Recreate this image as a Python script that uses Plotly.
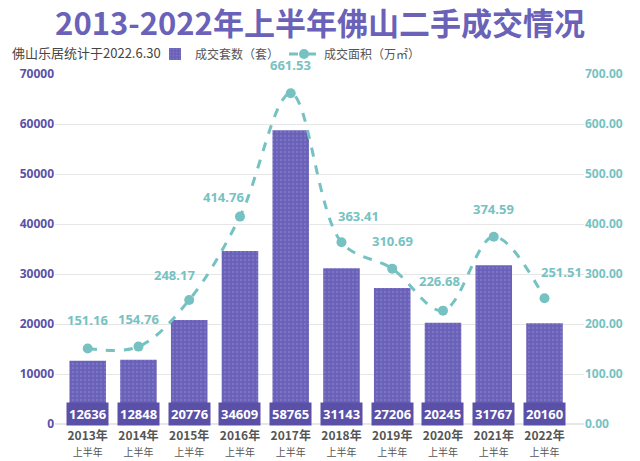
import plotly.graph_objects as go

years = ["2013年", "2014年", "2015年", "2016年", "2017年", "2018年", "2019年", "2020年", "2021年", "2022年"]
half = "上半年"
units = [12636, 12848, 20776, 34609, 58765, 31143, 27206, 20245, 31767, 20160]
area = [151.16, 154.76, 248.17, 414.76, 661.53, 363.41, 310.69, 226.68, 374.59, 251.51]
left_ticks = [0, 10000, 20000, 30000, 40000, 50000, 60000, 70000]
right_ticks = [0, 100, 200, 300, 400, 500, 600, 700]

# label placement offsets (pixels) for the area labels
label_dx = [0, 0, -15, -16, 0, 17, 0, -3, 0, 17]
label_dy = [17, 17, 14, 9, 17, 15, 17, 19, 17, 15]

purple = "#6a61b8"
purple_dark = "#5a50a8"
teal = "#76c2c2"

ticktext = [f"<b>{y}</b><br><span style='font-size:10px'>{half}</span>" for y in years]

plot_l, plot_r, plot_t, plot_b = 55, 584, 74, 424

fig = go.Figure()
fig.add_trace(go.Bar(
    x=years, y=units, name="成交套数（套）", width=0.72,
    marker=dict(color=purple, line=dict(width=0),
                pattern=dict(shape=".", fgcolor="#8f88cf", bgcolor=purple, size=4, solidity=0.25)),
    yaxis="y",
))
fig.add_trace(go.Scatter(
    x=years, y=area, name="成交面积（万㎡）", yaxis="y2",
    mode="lines+markers",
    line=dict(color=teal, width=3, dash="dash", shape="spline", smoothing=1),
    marker=dict(color=teal, size=10),
))

annotations = []
for y, u in zip(years, units):
    annotations.append(dict(
        x=y, y=2100, xref="x", yref="y", text=f"<b>{u}</b>", showarrow=False,
        font=dict(color="white", size=13, family="Noto Sans"),
        bgcolor=purple_dark, borderpad=2,
    ))
for y, a, dx, dy in zip(years, area, label_dx, label_dy):
    annotations.append(dict(
        x=y, y=a, xref="x", yref="y2", text=f"{a:.2f}", showarrow=False,
        xshift=dx, yshift=dy, yanchor="bottom",
        font=dict(color=teal, size=13, family="Noto Sans", weight="bold"),
    ))
annotations.append(dict(
    x=(10 - plot_l) / (plot_r - plot_l), y=(plot_b - 53) / (plot_b - plot_t),
    xref="paper", yref="paper", text="佛山乐居统计于2022.6.30",
    showarrow=False, xanchor="left", yanchor="middle",
    font=dict(color="#444444", size=13, family="Noto Sans CJK SC"),
))

fig.update_layout(
    width=640, height=461,
    margin=dict(l=plot_l, r=640 - plot_r, t=plot_t, b=461 - plot_b, autoexpand=False),
    paper_bgcolor="white", plot_bgcolor="white",
    title=dict(text="<b>2013-2022年上半年佛山二手成交情况</b>", xref="container", x=0.5, xanchor="center",
               yref="container", y=1 - 24 / 461, yanchor="middle",
               font=dict(color=purple, size=31, family="Noto Sans CJK SC")),
    showlegend=True,
    legend=dict(orientation="h", x=(155 - plot_l) / (plot_r - plot_l), xanchor="left",
                y=(plot_b - 54) / (plot_b - plot_t), yanchor="middle",
                font=dict(color="#555555", size=12, family="Noto Sans CJK SC"),
                bgcolor="rgba(0,0,0,0)", entrywidth=84, itemwidth=30, tracegroupgap=0),
    xaxis=dict(tickmode="array", tickvals=years, ticktext=ticktext, automargin=False,
               tickfont=dict(color="#555555", size=12, family="Noto Sans CJK SC"),
               ticklabelstandoff=3,
               showgrid=False, showline=False, ticks=""),
    yaxis=dict(range=[0, 70000], tickvals=left_ticks, tickformat="d", automargin=False,
               tickfont=dict(color=purple_dark, size=12, family="Noto Sans", weight="bold"),
               gridcolor="#e6e6e6", zeroline=True, zerolinecolor="#e6e6e6", showline=False),
    yaxis2=dict(range=[0, 700], tickvals=right_ticks, tickformat=".2f", overlaying="y", side="right",
                automargin=False,
                tickfont=dict(color=teal, size=12, family="Noto Sans", weight="bold"),
                showgrid=False, zeroline=False, showline=False),
    annotations=annotations,
)

fig.write_html("out.html")
